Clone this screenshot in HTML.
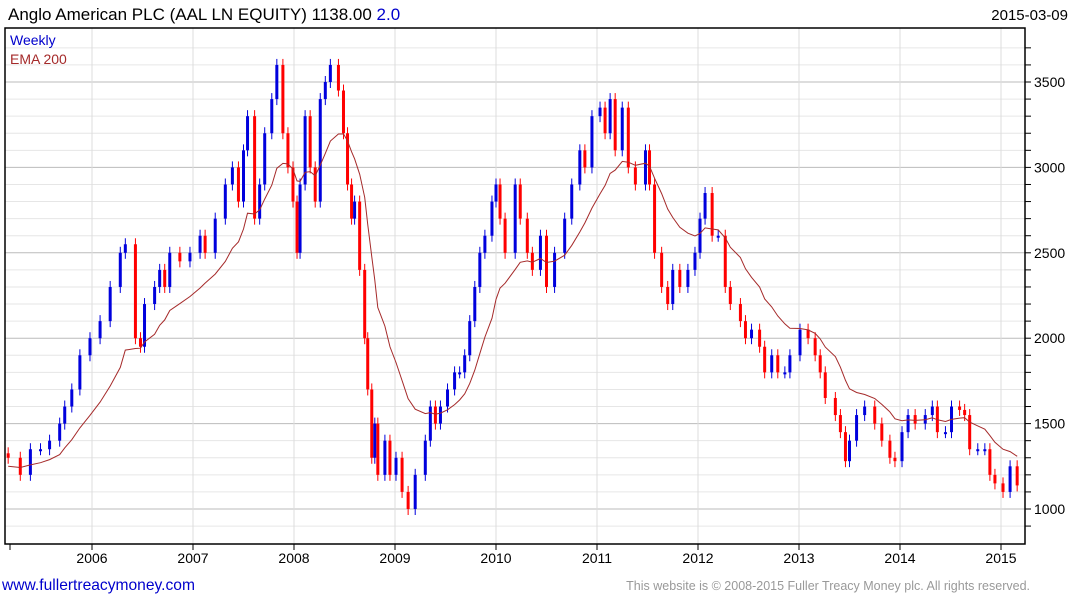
<!DOCTYPE html>
<html><head><meta charset="utf-8"><style>
body{margin:0;background:#fff;width:1075px;height:600px;overflow:hidden;font-family:"Liberation Sans",sans-serif}
svg text{font-family:"Liberation Sans",sans-serif}
</style></head><body>
<svg id="c" width="1075" height="600">
<text x="8" y="20" font-size="17" fill="#000">Anglo American PLC (AAL LN EQUITY) 1138.00 <tspan fill="#0000cc">2.0</tspan></text>
<text x="1068" y="20" font-size="15" text-anchor="end" fill="#000">2015-03-09</text>
<g id="grid"></g>
<g id="marks"></g>
<rect x="5" y="28" width="1020" height="516" fill="none" stroke="#000" stroke-width="1.5"/>
<g id="axes"></g>
<text x="10" y="45" font-size="14" fill="#0000cc">Weekly</text>
<text x="10" y="64" font-size="14" fill="#a52a2a">EMA 200</text>
<text x="2" y="590" font-size="15.6" fill="#0000cc">www.fullertreacymoney.com</text>
<text x="1030" y="590" font-size="12.5" text-anchor="end" fill="#999">This website is © 2008-2015 Fuller Treacy Money plc. All rights reserved.</text>
</svg>
<script>
const dates=[2005.17,2005.29,2005.39,2005.49,2005.58,2005.68,2005.73,2005.80,2005.88,2005.98,2006.08,2006.18,2006.28,2006.33,2006.43,2006.48,2006.52,2006.62,2006.67,2006.72,2006.77,2006.87,2006.97,2007.07,2007.12,2007.22,2007.32,2007.39,2007.45,2007.50,2007.54,2007.61,2007.66,2007.71,2007.78,2007.83,2007.89,2007.94,2007.99,2008.03,2008.06,2008.11,2008.16,2008.21,2008.26,2008.31,2008.36,2008.44,2008.49,2008.53,2008.57,2008.60,2008.65,2008.70,2008.73,2008.77,2008.80,2008.83,2008.90,2008.95,2009.01,2009.07,2009.13,2009.20,2009.30,2009.35,2009.40,2009.45,2009.52,2009.59,2009.64,2009.69,2009.74,2009.79,2009.84,2009.89,2009.96,2010.00,2010.04,2010.09,2010.19,2010.24,2010.31,2010.36,2010.44,2010.50,2010.58,2010.68,2010.75,2010.83,2010.88,2010.95,2011.03,2011.08,2011.13,2011.18,2011.25,2011.31,2011.38,2011.48,2011.52,2011.57,2011.64,2011.70,2011.75,2011.82,2011.90,2011.97,2012.02,2012.07,2012.14,2012.20,2012.27,2012.32,2012.42,2012.47,2012.53,2012.61,2012.66,2012.73,2012.79,2012.86,2012.91,2013.01,2013.09,2013.16,2013.21,2013.26,2013.36,2013.41,2013.46,2013.50,2013.57,2013.65,2013.75,2013.82,2013.90,2013.95,2014.02,2014.08,2014.15,2014.25,2014.32,2014.37,2014.45,2014.51,2014.59,2014.64,2014.69,2014.77,2014.84,2014.89,2014.94,2015.02,2015.09,2015.16];
const closes=[1300,1200,1350,1350,1400,1500,1600,1700,1900,2000,2100,2300,2500,2550,2000,1950,2200,2300,2400,2300,2500,2450,2500,2600,2500,2700,2900,3000,2800,3100,3300,2700,2900,3200,3400,3600,3200,3000,2800,2500,2900,3300,3000,2800,3400,3500,3600,3450,3200,2900,2700,2800,2400,2000,1700,1300,1500,1200,1400,1200,1300,1100,1000,1200,1400,1600,1500,1600,1700,1800,1800,1900,2100,2300,2500,2600,2800,2900,2700,2500,2900,2700,2500,2400,2600,2300,2500,2700,2900,3100,3000,3300,3350,3200,3400,3100,3350,3000,2900,3100,2900,2500,2300,2200,2400,2300,2400,2500,2700,2850,2600,2600,2300,2200,2100,2000,2050,1950,1800,1900,1800,1800,1900,2050,2000,1900,1800,1650,1550,1450,1280,1400,1550,1600,1500,1400,1300,1280,1450,1550,1500,1550,1600,1450,1450,1600,1580,1550,1350,1350,1350,1200,1150,1100,1250,1138];
const yTicks=[1000,1500,2000,2500,3000,3500];
const years=[2006,2007,2008,2009,2010,2011,2012,2013,2014,2015];
const NS='http://www.w3.org/2000/svg';
function X(t){return 92+(t-2006)*101;}
function Y(v){return 509-(v-1000)*0.1708;}
function mk(tag,attrs,parent){const e=document.createElementNS(NS,tag);for(const k in attrs)e.setAttribute(k,attrs[k]);parent.appendChild(e);return e;}
const grid=document.getElementById('grid'),marks=document.getElementById('marks'),axes=document.getElementById('axes');
for(let v=800;v<=3700;v+=100){const y=Y(v);if(y<29||y>543)continue;const major=v%500===0;
 const l=mk('line',{x1:5,x2:1025,y1:y,y2:y,stroke:major?'#bbb':'#e6e6e6','stroke-width':1},grid);
 
 
 const tk=mk('line',{x1:1025,x2:1031,y1:y,y2:y,stroke:'#000'},axes);
 
 }
yTicks.forEach(v=>{const t=mk('text',{x:1034,y:Y(v)+5,'font-size':14,fill:'#000'},axes);t.textContent=v;
 
 });
years.forEach(yr=>{const x=X(yr);
 const g=mk('line',{x1:x,x2:x,y1:28,y2:544,stroke:'#ddd'},grid);
 
 
 const tk=mk('line',{x1:x,x2:x,y1:544,y2:550,stroke:'#000'},axes);
 
 
 const t=mk('text',{x:x,y:563,'font-size':14,'text-anchor':'middle',fill:'#000'},axes);t.textContent=yr;
 
 });
for(let i=0;i<closes.length;i++){
 const o=i?closes[i-1]:closes[0]*1.02,c=closes[i];const up=c>=o;const col=up?'#0000dd':'#ff0000';
 const x=X(dates[i]);const top=Y(Math.max(o,c)),bot=Y(Math.min(o,c));
 const w=mk('line',{x1:x,x2:x,y1:top-6,y2:bot+6,stroke:col,'stroke-width':1},marks);
 
 
 const b=mk('rect',{x:x-1.5,y:top,width:3,height:Math.max(2,bot-top),fill:col},marks);
 
 }
let e=1250,pts=[];const a=0.14;
for(let i=0;i<closes.length;i++){e=i?e+a*(closes[i]-e):e;pts.push(X(dates[i]).toFixed(1)+','+Y(e).toFixed(1));}
const pl=mk('polyline',{points:pts.join(' '),fill:'none',stroke:'#a52a2a','stroke-width':1},marks);


const lt=mk('line',{x1:10,x2:10,y1:544,y2:550,stroke:'#000'},axes);


</script>
</body></html>
